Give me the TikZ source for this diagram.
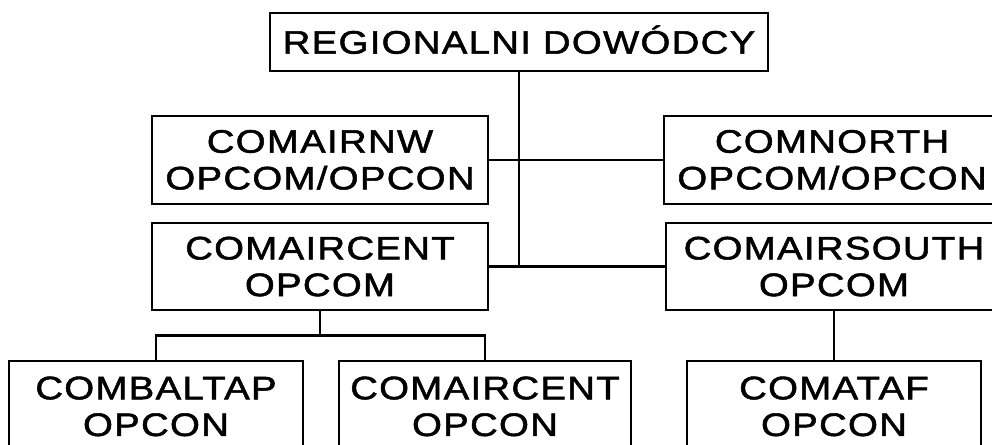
\documentclass[tikz,border=0pt]{standalone}
\usepackage{fontspec}
\setmainfont{Liberation Sans}[LetterSpace=4,FakeStretch=1.18,FakeBold=1.6]
\usetikzlibrary{positioning}
\tikzset{
  unit/.style  ={draw=black,line width=2pt,align=center,inner xsep=4pt,inner ysep=14pt,
                 font=\fontsize{32.5}{36.7}\selectfont,minimum width=336pt},
  head/.style  ={unit,minimum width=498pt,minimum height=58pt,text height=23.3pt,text depth=0pt,inner ysep=0pt},
  leaf/.style  ={unit,minimum width=294pt,minimum height=90pt,inner ysep=15pt},
  link/.style  ={line width=2.3pt,draw=black},
}
\begin{document}
\begin{tikzpicture}[x=1pt,y=1pt]
  \useasboundingbox (0,0) rectangle (992,-444);
  \clip (0,0) rectangle (992,-444);

  \node[head] (top) at (519,-42) {REGIONALNI DOWÓDCY};

  \node[unit, below=43pt of top, xshift=-199pt] (nw) {COMAIRNW\\OPCOM/OPCON};
  \node[unit, right=174pt of nw] (north) {COMNORTH\\OPCOM/OPCON};
  \node[unit, below=17pt of nw] (cent) {COMAIRCENT\\OPCOM};
  \node[unit, right=176pt of cent] (south) {COMAIRSOUTH\\OPCOM};

  \node[leaf, below=49pt of cent, xshift=-164pt] (baltap) {COMBALTAP\\OPCON};
  \node[leaf, right=34pt of baltap, minimum width=292pt] (centcon) {COMAIRCENT\\OPCON};
  \node[leaf, below=49pt of south] (ataf) {COMATAF\\OPCON};

  \coordinate (trunk) at (top.south |- cent.east);
  \coordinate (split) at ([yshift=-24pt]cent.south);

  \draw[link] (top.south) -- (trunk);
  \draw[link] (nw.east) -- (north.west);
  \draw[link] (cent.east) -- (south.west);
  \draw[link] (cent.south) -- (split);
  \draw[link] (baltap.north) |- (split) -| (centcon.north);
  \draw[link] (south.south) -- (ataf.north);
\end{tikzpicture}
\end{document}
